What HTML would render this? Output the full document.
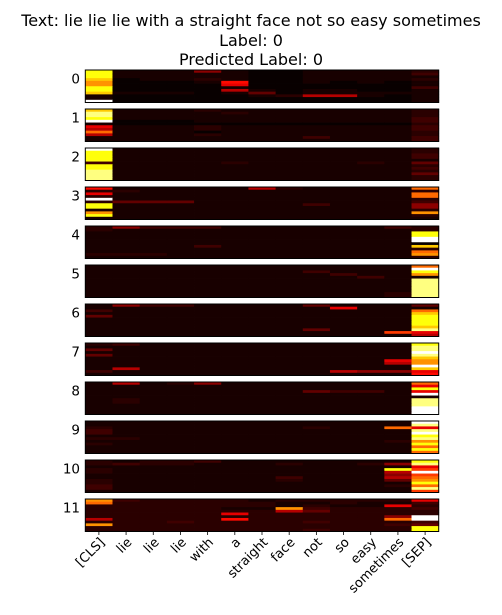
<!DOCTYPE html>
<html><head><meta charset="utf-8">
<style>
html,body{margin:0;padding:0;background:#fff;}
svg{display:block;font-family:"DejaVu Sans","Liberation Sans",sans-serif;}
</style></head>
<body>
<svg id="chart" width="502" height="615" viewBox="0 0 502 615">
<text x="251" y="26" font-size="16" text-anchor="middle">Text: lie lie lie with a straight face not so easy sometimes</text>
<text x="251" y="46" font-size="16" text-anchor="middle">Label: 0</text>
<text x="251" y="65" font-size="16" text-anchor="middle">Predicted Label: 0</text>
<g id="panels"></g>
<g id="xaxis"></g>
</svg>
<script>
const tokens = ["[CLS]","lie","lie","lie","with","a","straight","face","not","so","easy","sometimes","[SEP]"];
const layerLabels = ["0","1","2","3","4","5","6","7","8","9","10","11"];
// attention intensity: 12 heads (rows) x 13 tokens, hex digit 0-f (groups 5+4+4)
const layer0 = ["d1115 1001 1112","d1111 1001 1113","d1111 1001 1111","c0112 1001 1112","b0001 8001 0101","b0000 7000 0001","d0000 1000 0003","d0000 6101 1001","c1110 1401 1111","10000 0126 6101","10000 0000 0001","f0000 0000 0001"];
const layer1 = ["c1112 1111 1112","e1111 2111 1112","e1111 1111 1112","d1111 1111 1113","f0001 1111 1113","10000 0000 0002","71112 1111 1113","61112 1111 1113","a1110 1111 1112","61112 1111 1112","11111 1113 1113","11111 1111 1113"];
const layer2 = ["f1111 1111 1112","d1111 1111 1112","d1111 1111 1113","d1111 1111 1113","d1111 1111 1111","31111 2111 1214","d1111 1111 1112","d1111 1111 1113","e1111 1111 1112","e1111 1111 1114","e1111 1111 1112","e1111 1111 1112"];
const layer3 = ["81111 1621 111a","22111 1111 1112","71111 1111 111a","21111 1111 111a","f1111 1111 1112","24441 1111 1113","d1111 1113 1115","d1111 1111 1115","11111 1111 1112","b1111 1111 111b","d1111 1111 1112","11111 1111 1111"];
const layer4 = ["25333 1111 1132","21111 1111 1112","11111 1111 111d","11111 1111 111d","11111 1111 111f","11111 1111 111f","11111 1111 1110","11113 1111 111c","11111 1111 1112","11111 1111 111a","22211 1111 111b","11111 1111 1112"];
const layer5 = ["11111 1111 111a","11111 1111 111f","11111 1113 111d","11111 1111 311b","11111 1111 1311","11111 1111 111e","11111 1111 111e","11111 1111 111e","11111 1111 111e","11111 1111 111e","11111 1111 112e","11111 1111 112e"];
const layer6 = ["15331 1114 1114","11111 1111 7111","31111 1111 111a","11111 1111 111c","41111 1111 111d","11111 1111 111d","11111 1111 111d","11111 1111 111d","11111 1111 111c","11111 1114 111e","11111 1111 1197","11111 1111 1116"];
const layer7 = ["23111 1111 111d","11111 1111 111e","41111 1111 111e","11111 1111 111f","41111 1111 111e","11111 1111 111c","11111 1111 117b","11111 1111 116b","11111 1111 111f","16111 1111 111c","31111 1111 6557","11111 1111 1118"];
const layer8 = ["16125 1111 111a","11111 1111 1117","11111 1111 111d","11111 1114 3317","11111 1111 111f","11111 1111 1111","12111 1111 111e","12111 1111 111e","11111 1111 111e","11111 1111 111f","11111 1111 111f","11111 1111 111f"];
const layer9 = ["11111 1111 111f","11111 1111 111e","21111 1112 11a7","31111 1111 111e","31111 1111 111f","11111 1111 111d","22111 1111 111e","11111 1111 112b","21111 1111 111d","11111 1111 111a","11111 1111 111d","11111 1111 111a"];
const layer10 = ["21223 1111 111d","23221 1121 125e","11111 1111 1117","21111 1111 11d9","21111 1111 116f","11111 1111 1159","11111 1131 116a","21111 1121 114b","21111 1111 111d","31111 1111 112a","31111 1111 111e","11111 1111 1119"];
const layer11 = ["b3222 2122 2227","a2222 2211 2113","22222 2212 1172","22222 11b3 2223","22222 2264 2222","22222 7222 2222","22222 2222 225f","62222 8222 22af","22232 2223 2223","b2222 2222 2234","22222 2222 222d","22222 2223 222d"];
const layers = [layer0,layer1,layer2,layer3,layer4,layer5,layer6,layer7,layer8,layer9,layer10,layer11];

const NS = "http://www.w3.org/2000/svg";
const X0 = 85.3, X1 = 438.7, PTOP = 70, PH = 32.5, STRIDE = 39.0;
const colW = (X1 - X0) / tokens.length;
const LEVELS = [0.012,0.035,0.06,0.09,0.14,0.2,0.26,0.33,0.38,0.45,0.52,0.58,0.66,0.75,0.87,1.0];
function xScale(i){ return X0 + i * colW; }
function yPanel(l){ return PTOP + l * STRIDE; }
function hot(d){
  const v = LEVELS[d];
  const r = Math.min(1, v / 0.365), g = Math.max(0, Math.min(1, (v - 0.365) / 0.375)), b = Math.max(0, Math.min(1, (v - 0.74) / 0.26));
  return `rgb(${Math.round(r*255)},${Math.round(g*255)},${Math.round(b*255)})`;
}
function parseRow(s){
  const clean = s.replace(/\s/g, "");
  const out = [];
  for (let i = 0; i < tokens.length; i++) {
    const c = clean[i];
    out.push(c === undefined ? 1 : parseInt(c, 16));
  }
  return out;
}
const panelsG = document.getElementById("panels");
layers.forEach((rows, l) => {
  const g = document.createElementNS(NS, "g");
  
  
  const y0 = yPanel(l), rh = PH / rows.length;
  rows.forEach((s, h) => {
    const vals = parseRow(s);
    vals.forEach((d, t) => {
      const r = document.createElementNS(NS, "rect");
      
      
      r.setAttribute("x", xScale(t)); r.setAttribute("y", y0 + h * rh);
      r.setAttribute("width", colW + 0.4); r.setAttribute("height", rh + 0.4);
      r.setAttribute("fill", hot(d));
      g.appendChild(r);
    });
  });
  const fr = document.createElementNS(NS, "rect");
  
  
  fr.setAttribute("x", X0); fr.setAttribute("y", y0); fr.setAttribute("width", X1 - X0); fr.setAttribute("height", PH);
  fr.setAttribute("fill", "none"); fr.setAttribute("stroke", "#000"); fr.setAttribute("stroke-width", "1");
  g.appendChild(fr);
  const lab = document.createElementNS(NS, "text");
  
  
  lab.setAttribute("x", 80); lab.setAttribute("y", y0 + 13.5);
  lab.setAttribute("font-size", "13.5"); lab.setAttribute("text-anchor", "end");
  lab.textContent = layerLabels[l];
  g.appendChild(lab);
  panelsG.appendChild(g);
});
const xg = document.getElementById("xaxis");
const yb = yPanel(layers.length - 1) + PH;
tokens.forEach((tok, i) => {
  const cx = xScale(i) + colW / 2;
  const tk = document.createElementNS(NS, "line");
  
  
  tk.setAttribute("x1", cx); tk.setAttribute("x2", cx); tk.setAttribute("y1", yb); tk.setAttribute("y2", yb + 3.5);
  tk.setAttribute("stroke", "#000"); tk.setAttribute("stroke-width", "0.8");
  xg.appendChild(tk);
  const t = document.createElementNS(NS, "text");
  
  
  const ax = cx + 4, ay = yb + 9;
  t.setAttribute("x", ax); t.setAttribute("y", ay);
  t.setAttribute("font-size", "13"); t.setAttribute("text-anchor", "end");
  t.setAttribute("dominant-baseline", "middle");
  t.setAttribute("transform", `rotate(-45 ${ax} ${ay})`);
  t.textContent = tok;
  xg.appendChild(t);
});
</script>
</body></html>
